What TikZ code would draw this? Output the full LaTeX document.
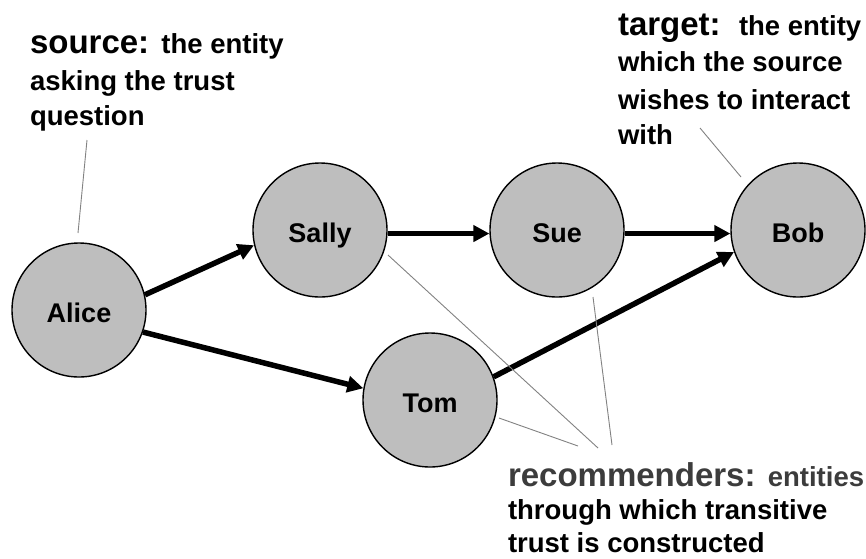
\documentclass[tikz,border=0pt]{standalone}
\usepackage{fontspec}
\setmainfont{Liberation Sans}
\usetikzlibrary{arrows.meta}

\definecolor{nodefill}{RGB}{190,190,190}
\definecolor{leader}{RGB}{130,130,130}
\definecolor{recgray}{RGB}{60,60,60}

\newcommand{\headfont}{\fontsize{33}{33}\selectfont\bfseries}
\newcommand{\bodyfont}{\fontsize{27.5}{27.5}\selectfont\bfseries}

\tikzset{
  entity/.style={circle, draw=black, line width=1.4pt, fill=nodefill,
    minimum size=134pt, inner sep=0pt, text height=25pt, text depth=0pt,
    font=\fontsize{27}{27}\selectfont\bfseries},
  trustarrow/.style={line width=5.5pt,
    -{Triangle[length=16pt,width=16pt]}},
  leaderline/.style={draw=leader, line width=0.9pt},
  textline/.style={anchor=base west, inner sep=0pt, outer sep=0pt},
}

\begin{document}
\begin{tikzpicture}[x=1pt,y=-1pt]
  \useasboundingbox (0,0) rectangle (866,558);
  \fill[white] (0,0) rectangle (866,558);

  % entities of the trust network
  \node[entity] (alice) at (79,310) {Alice};
  \node[entity] (sally) at (320,230) {Sally};
  \node[entity] (sue)   at (557,230) {Sue};
  \node[entity] (bob)   at (798,230) {Bob};
  \node[entity] (tom)   at (430,400) {Tom};

  % trust relations
  \draw[trustarrow] (alice.13)  -- (sally.193);
  \draw[trustarrow] (alice.-19) -- (tom.170);
  \draw[trustarrow] (sally.-3)  -- (sue.183);
  \draw[trustarrow] (sue.-3)    -- (bob.183);
  \draw[trustarrow] (tom.20)    -- (bob.199);

  % source annotation
  \node[textline] (srcA) at (30,53)  {\headfont source: \bodyfont the entity};
  \node[textline] (srcB) at (30,90)  {\bodyfont asking the trust};
  \node[textline] (srcC) at (30,125) {\bodyfont question};
  \coordinate (srcTop) at (87,140);
  \coordinate (srcEnd) at (78,233);
  \draw[leaderline] (srcTop) -- (srcEnd);

  % target annotation
  \node[textline] (tgtA) at (618,35)  {\headfont target:\ \ \bodyfont the entity};
  \node[textline] (tgtB) at (618,71)  {\bodyfont which the source};
  \node[textline] (tgtC) at (618,109) {\bodyfont wishes to interact};
  \node[textline] (tgtD) at (618,144) {\bodyfont with};
  \coordinate (tgtTop) at (700,128);
  \coordinate (tgtEnd) at (741,177);
  \draw[leaderline] (tgtTop) -- (tgtEnd);

  % recommenders annotation
  \node[textline, text=recgray] (recA) at (508,486)
    {\headfont recommenders: \bodyfont entities};
  \node[textline] (recB) at (508,519) {\bodyfont through which transitive};
  \node[textline] (recC) at (508,552) {\bodyfont trust is constructed};
  \coordinate (recSally) at (388,255);
  \coordinate (recSue)   at (593,297);
  \coordinate (recTom)   at (499,418);
  \coordinate (hubSally) at (598,448);
  \coordinate (hubSue)   at (612,445);
  \coordinate (hubTom)   at (578,446);
  \draw[leaderline] (recSally) -- (hubSally);
  \draw[leaderline] (recSue) -- (hubSue);
  \draw[leaderline] (recTom) -- (hubTom);
\end{tikzpicture}
\end{document}
